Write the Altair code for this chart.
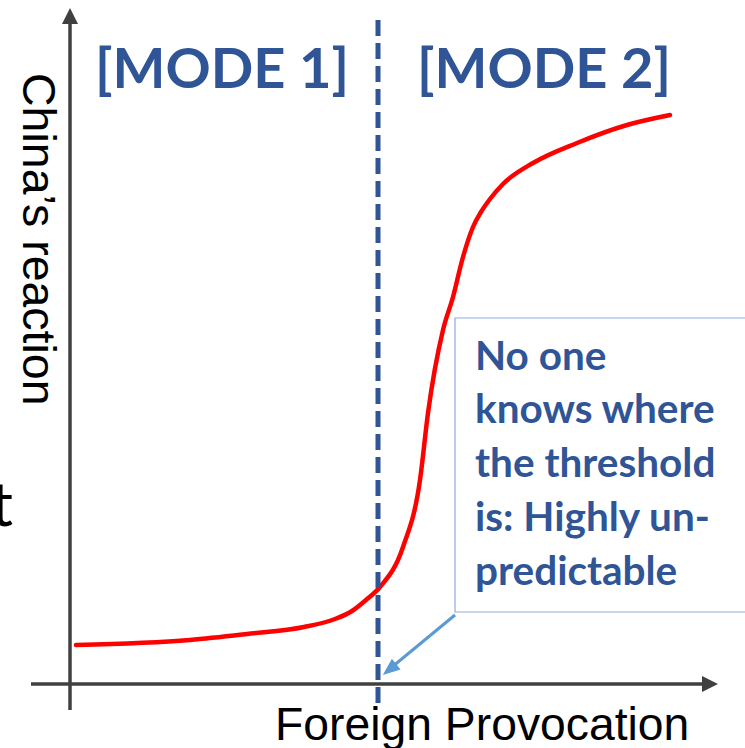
import altair as alt
import pandas as pd

# Diagram units: provocation along x, reaction along y, origin at the axes' corner
provocation = [6, 120, 177, 234, 265, 282, 296, 310, 333, 350, 358, 373, 383, 393, 403, 411, 420, 433, 463, 507, 557, 600]
reaction = [39, 44, 50, 57, 65, 73, 84, 97, 137, 204, 271, 354, 387, 427, 457, 472, 485, 500, 521, 541, 559, 569]

threshold = 308
mode_labels = ["[MODE 1]", "[MODE 2]"]
mode_x = [25, 347]
mode_y = [596, 596]

note_lines = ["No one", "knows where", "the threshold", "is: Highly un-", "predictable"]
note_x = 405
note_y = [314, 261, 207, 153, 99]
note_box = dict(x=385, x2=690, y=366, y2=72)

BLUE = "#2F5597"
AXIS = "#404040"
POINTER = "#5B9BD5"

X_DOMAIN = [-70, 675]
Y_DOMAIN = [-64, 684]
xs = alt.Scale(domain=X_DOMAIN, nice=False, zero=False)
ys = alt.Scale(domain=Y_DOMAIN, nice=False, zero=False)


def X(f="x"):
    return alt.X(f"{f}:Q", scale=xs, axis=None)


def Y(f="y"):
    return alt.Y(f"{f}:Q", scale=ys, axis=None)


curve_df = pd.DataFrame({"x": provocation, "y": reaction})
curve = alt.Chart(curve_df).mark_line(
    color="#FF0000", strokeWidth=4.5, interpolate="monotone", strokeCap="round"
).encode(x=X(), y=Y())

axes_df = pd.DataFrame({"x": [-39, 0], "y": [0, -26], "x2": [633, 0], "y2": [0, 660]})
axes = alt.Chart(axes_df).mark_rule(color=AXIS, strokeWidth=3.5).encode(
    x=X(), y=Y(), x2="x2:Q", y2="y2:Q"
)

heads_df = pd.DataFrame({"x": [640, 0], "y": [0, 668], "dir": ["right", "up"]})
head_right = alt.Chart(heads_df[heads_df.dir == "right"]).mark_point(
    shape="M -1 -1 L 1 0 L -1 1 Z", size=256, filled=True, color=AXIS, opacity=1
).encode(x=X(), y=Y())
head_up = alt.Chart(heads_df[heads_df.dir == "up"]).mark_point(
    shape="M -1 1 L 0 -1 L 1 1 Z", size=256, filled=True, color=AXIS, opacity=1
).encode(x=X(), y=Y())

thr_df = pd.DataFrame({"x": [threshold], "y": [-19], "y2": [667]})
thr = alt.Chart(thr_df).mark_rule(color=BLUE, strokeWidth=5, strokeDash=[16, 7]).encode(
    x=X(), y=Y(), y2="y2:Q"
)

modes_df = pd.DataFrame({"label": mode_labels, "x": mode_x, "y": mode_y})
modes = alt.Chart(modes_df).mark_text(
    font="Lato", fontWeight="bold", fontSize=56, color=BLUE, align="left", baseline="alphabetic"
).encode(x=X(), y=Y(), text="label:N")

box_df = pd.DataFrame([note_box])
box = alt.Chart(box_df).mark_rect(fill="white", stroke="#8FAADC", strokeWidth=1.2).encode(
    x=X(), x2="x2:Q", y=Y(), y2="y2:Q"
)

note_df = pd.DataFrame({"label": note_lines, "x": [note_x] * len(note_lines), "y": note_y})
note = alt.Chart(note_df).mark_text(
    font="Lato", fontWeight="bold", fontSize=40.5, color=BLUE, align="left", baseline="alphabetic"
).encode(x=X(), y=Y(), text="label:N")

pointer_df = pd.DataFrame({"x": [385], "y": [69], "x2": [322], "y2": [17]})
pointer = alt.Chart(pointer_df).mark_rule(color=POINTER, strokeWidth=3).encode(
    x=X(), y=Y(), x2="x2:Q", y2="y2:Q"
)
pointer_head = alt.Chart(pd.DataFrame({"x": [319.5], "y": [14.5]})).mark_point(
    shape="M -1 -0.8 L 1 0 L -1 0.8 Z", size=300, filled=True, color=POINTER,
    opacity=1, angle=141
).encode(x=X(), y=Y())

ylab = alt.Chart(pd.DataFrame({"label": ["China’s reaction"], "x": [-47], "y": [611]})).mark_text(
    font="Liberation Sans", fontSize=46.5, color="black", angle=90, align="left", baseline="alphabetic"
).encode(x=X(), y=Y(), text="label:N")

xlab = alt.Chart(pd.DataFrame({"label": ["Foreign Provocation"], "x": [205], "y": [-56]})).mark_text(
    font="Liberation Sans", fontSize=46.3, color="black", align="left", baseline="alphabetic"
).encode(x=X(), y=Y(), text="label:N")

stray = alt.Chart(pd.DataFrame({"label": ["t"], "x": [-57], "y": [158]})).mark_text(
    font="Lato", fontSize=62, color="black", align="right", baseline="alphabetic"
).encode(x=X(), y=Y(), text="label:N")

chart = alt.layer(
    axes, head_right, head_up, curve, thr, box, note, pointer, pointer_head, modes, ylab, xlab, stray
).properties(
    width=745, height=748, padding=0, autosize=alt.AutoSizeParams(type="none"), background="white"
).configure_view(stroke=None)

chart.save("out.html", embed_options={"renderer": "svg", "actions": False})
